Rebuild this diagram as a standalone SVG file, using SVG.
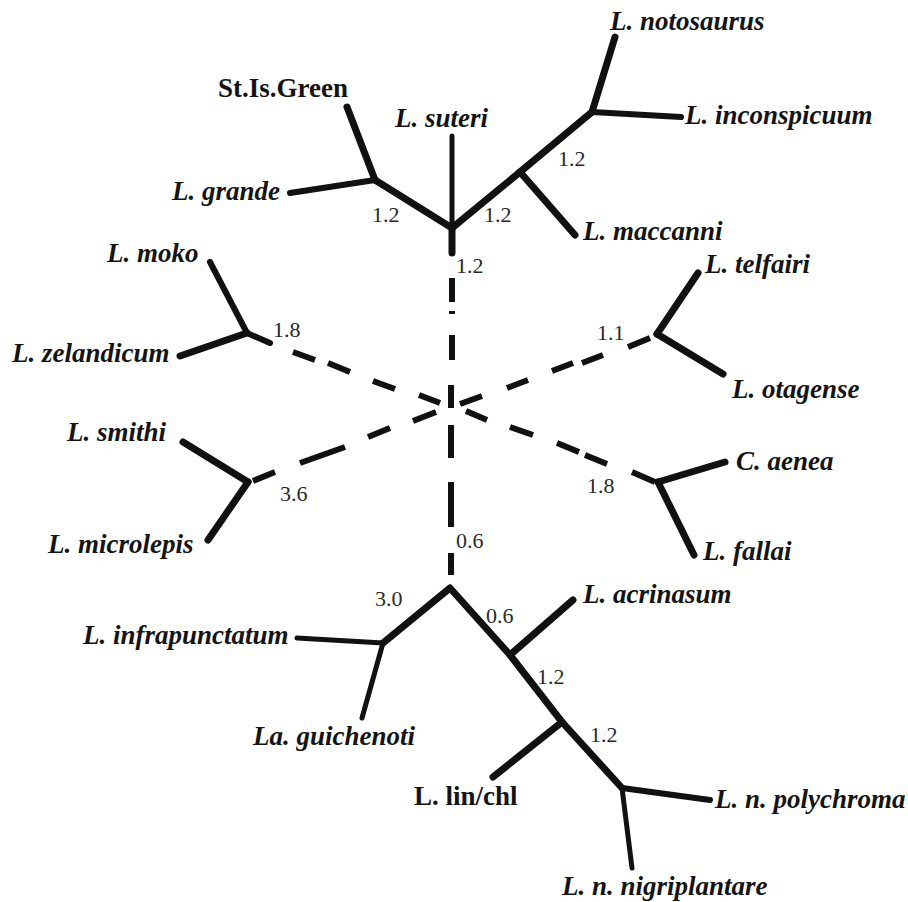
<svg xmlns="http://www.w3.org/2000/svg" width="908" height="902" viewBox="0 0 908 902">
  <style>
    .br { fill: none; stroke: #111; stroke-width: 7; stroke-linecap: round; stroke-linejoin: round; }
    .thin { stroke-width: 5; }
    .mid { stroke-width: 6; }
    .dash { fill: none; stroke: #111; stroke-width: 6; stroke-linecap: butt; }
    .taxon { font-family: "Liberation Serif", "Times New Roman", serif; font-size: 27px; font-weight: bold; font-style: italic; fill: #141414; }
    .plain { font-style: normal; }
    .len { font-family: "Liberation Serif", "Times New Roman", serif; font-size: 22px; fill: #2a2a2a; }
  </style>
  <rect width="908" height="902" fill="#fff"/>

  <!-- internal branches, dashed links to the hub, and branch lengths -->
  <g id="connectors">
    <!-- upper clade -->
    <path class="br" d="M375 180 L452 228 L520 172 L592 112"/>
    <path class="br" d="M452 228 L452 253"/>
    <!-- lower clade -->
    <path class="br" d="M383 643 L450 588 L510 655 L562 722 L622 788"/>
    <!-- short solid stubs -->
    <path class="br mid" d="M247 333 L270 343"/>
    <!-- dashed links to the central hub -->
    <path class="dash" d="M452 278 L452 302 M452 311 L452 314 M452 335 L452 360 M451 385 L451 408 M451 425 L451 458 M451 482 L451 527 M451 553 L451 575"/>
    <path class="dash" d="M293 352 L315 360 M328 363 L350 372 M373 381 L395 389 M419 395 L440 403"/>
    <path class="dash" d="M253 481 L275 472 M300 463 L345 447 M368 437 L390 428 M413 421 L436 412"/>
    <path class="dash" d="M460 404 L482 396 M507 388 L528 380 M552 371 L573 363 M582 363 L603 355 M628 347 L650 338"/>
    <path class="dash" d="M466 411 L487 420 M510 427 L533 435 M557 443 L579 452 M585 455 L607 464 M632 472 L655 482"/>
    <!-- branch lengths -->
    <text class="len" x="372" y="222">1.2</text>
    <text class="len" x="484" y="222">1.2</text>
    <text class="len" x="558" y="166">1.2</text>
    <text class="len" x="456" y="273">1.2</text>
    <text class="len" x="273" y="337">1.8</text>
    <text class="len" x="280" y="501">3.6</text>
    <text class="len" x="597" y="340">1.1</text>
    <text class="len" x="587" y="493">1.8</text>
    <text class="len" x="456" y="548">0.6</text>
    <text class="len" x="375" y="606">3.0</text>
    <text class="len" x="486" y="623">0.6</text>
    <text class="len" x="537" y="684">1.2</text>
    <text class="len" x="590" y="742">1.2</text>
  </g>

  <!-- upper clade taxa -->
  <g id="st-is-green">
    <path class="br" d="M375 180 L347 107"/>
    <text class="taxon plain" x="218" y="97">St.Is.Green</text>
  </g>
  <g id="l-grande">
    <path class="br mid" d="M375 180 L290 193"/>
    <text class="taxon" x="172" y="200">L. grande</text>
  </g>
  <g id="l-suteri">
    <path class="br thin" d="M452 228 L452 136"/>
    <text class="taxon" x="395" y="127">L. suteri</text>
  </g>
  <g id="l-maccanni">
    <path class="br" d="M520 172 L575 235"/>
    <text class="taxon" x="583" y="240">L. maccanni</text>
  </g>
  <g id="l-notosaurus">
    <path class="br" d="M592 112 L615 37"/>
    <text class="taxon" x="610" y="30">L. notosaurus</text>
  </g>
  <g id="l-inconspicuum">
    <path class="br mid" d="M592 112 L681 117"/>
    <text class="taxon" x="685" y="124">L. inconspicuum</text>
  </g>

  <!-- left taxa -->
  <g id="l-moko">
    <path class="br mid" d="M247 333 L210 262"/>
    <text class="taxon" x="107" y="262">L. moko</text>
  </g>
  <g id="l-zelandicum">
    <path class="br" d="M247 333 L180 356"/>
    <text class="taxon" x="12" y="362">L. zelandicum</text>
  </g>
  <g id="l-smithi">
    <path class="br" d="M248 482 L183 442"/>
    <text class="taxon" x="67" y="441">L. smithi</text>
  </g>
  <g id="l-microlepis">
    <path class="br" d="M248 482 L208 540"/>
    <text class="taxon" x="48" y="553">L. microlepis</text>
  </g>

  <!-- right taxa -->
  <g id="l-telfairi">
    <path class="br" d="M657 334 L698 273"/>
    <text class="taxon" x="705" y="273">L. telfairi</text>
  </g>
  <g id="l-otagense">
    <path class="br" d="M657 334 L723 374"/>
    <text class="taxon" x="732" y="398">L. otagense</text>
  </g>
  <g id="c-aenea">
    <path class="br" d="M658 482 L725 462"/>
    <text class="taxon" x="736" y="470">C. aenea</text>
  </g>
  <g id="l-fallai">
    <path class="br" d="M658 482 L694 555"/>
    <text class="taxon" x="703" y="560">L. fallai</text>
  </g>

  <!-- lower clade taxa -->
  <g id="l-infrapunctatum">
    <path class="br thin" d="M383 643 L297 638"/>
    <text class="taxon" x="83" y="644">L. infrapunctatum</text>
  </g>
  <g id="la-guichenoti">
    <path class="br thin" d="M383 643 L362 718"/>
    <text class="taxon" x="253" y="745">La. guichenoti</text>
  </g>
  <g id="l-acrinasum">
    <path class="br" d="M510 655 L573 600"/>
    <text class="taxon" x="583" y="603">L. acrinasum</text>
  </g>
  <g id="l-lin-chl">
    <path class="br" d="M562 722 L493 777"/>
    <text class="taxon plain" x="414" y="805">L. lin/chl</text>
  </g>
  <g id="l-n-polychroma">
    <path class="br mid" d="M622 788 L710 800"/>
    <text class="taxon" x="715" y="808">L. n. polychroma</text>
  </g>
  <g id="l-n-nigriplantare">
    <path class="br thin" d="M622 788 L632 868"/>
    <text class="taxon" x="562" y="895">L. n. nigriplantare</text>
  </g>
</svg>
